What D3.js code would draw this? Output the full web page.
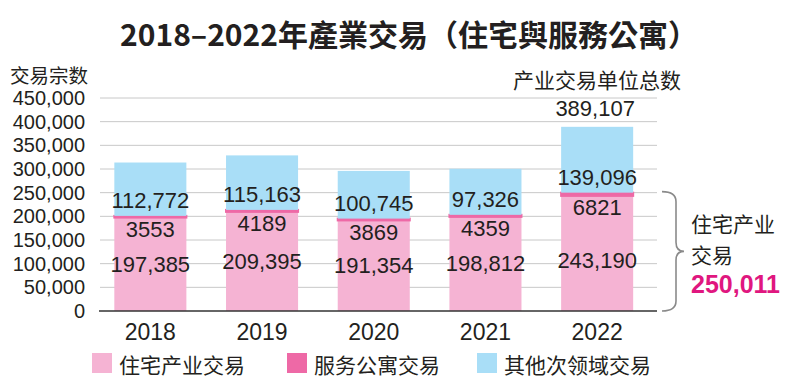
<!DOCTYPE html>
<html>
<head>
<meta charset="utf-8">
<script src="https://cdn.jsdelivr.net/npm/d3@7"></script>
<style>
  html, body { margin: 0; padding: 0; background: #fff; }
  svg { display: block; }
</style>
</head>
<body>
<svg id="chart" width="800" height="389"></svg>
<script>
// ---- data ----
const years = ["2018", "2019", "2020", "2021", "2022"];
const residential = [197385, 209395, 191354, 198812, 243190];
const servicedApt = [3553, 4189, 3869, 4359, 6821];
const otherSectors = [112772, 115163, 100745, 97326, 139096];
const yTicks = [0, 50000, 100000, 150000, 200000, 250000, 300000, 350000, 400000, 450000];
const seriesNames = ["住宅产业交易", "服务公寓交易", "其他次领域交易"];
const titleText = "2018–2022年產業交易（住宅與服務公寓）";
const yAxisTitle = "交易宗数";
const totalTitle = "产业交易单位总数";
const braceLabelLines = ["住宅产业", "交易"];
const braceValue = 250011;

// ---- setup ----
const colors = ["#f5b3d3", "#ee69a6", "#a9def7"];
const svg = d3.select("#chart");
const latin = "'Liberation Sans', Arial, sans-serif";
const cjkSC = "'Noto Sans CJK SC', sans-serif";
const cjkTC = "'Noto Sans CJK TC', sans-serif";
const fmt = d3.format(",");

const x = d3.scaleBand().domain(years).range([94.5, 653]).paddingInner(0.355).paddingOuter(0.1775);
const y = d3.scaleLinear().domain([0, 450000]).range([311, 98]);

const rows = years.map((yr, i) => ({ year: yr, res: residential[i], svc: servicedApt[i], oth: otherSectors[i] }));
const stack = d3.stack().keys(["res", "svc", "oth"])(rows);

// title
svg.append("text").attr("x", 409).attr("y", 33).attr("text-anchor", "middle")
  .attr("dominant-baseline", "central")
  .style("font-family", cjkTC).style("font-weight", 700).style("font-size", "30px")
  .attr("fill", "#231f20").text(titleText);

// gridlines
svg.append("g").selectAll("line").data(yTicks.filter(d => d > 0)).join("line")
  .attr("x1", 100).attr("x2", 657).attr("y1", d => y(d)).attr("y2", d => y(d))
  .attr("stroke", "#c8c8c8").attr("stroke-width", 1);

// y axis labels
svg.append("g").selectAll("text").data(yTicks).join("text")
  .attr("x", 85).attr("y", d => y(d)).attr("text-anchor", "end").attr("dominant-baseline", "central")
  .style("font-family", latin).style("font-size", "20px").attr("fill", "#231f20")
  .text(d => fmt(d));

svg.append("text").attr("x", 10).attr("y", 74).attr("dominant-baseline", "central")
  .style("font-family", cjkSC).style("font-size", "19.5px").attr("fill", "#231f20").text(yAxisTitle);

// bars
svg.append("g").selectAll("g").data(stack).join("g").attr("fill", (d, i) => colors[i])
  .attr("stroke", (d, i) => i === 1 ? colors[1] : "none").attr("stroke-width", 2)
  .selectAll("rect").data(d => d).join("rect")
  .attr("x", d => x(d.data.year)).attr("width", x.bandwidth())
  .attr("y", d => y(d[1])).attr("height", d => y(d[0]) - y(d[1]));

// zero line
svg.append("line").attr("x1", 99).attr("x2", 657).attr("y1", y(0)).attr("y2", y(0))
  .attr("stroke", "#333").attr("stroke-width", 1.5);

// value labels
const lbl = svg.append("g").style("font-family", latin).style("font-size", "22px").attr("fill", "#231f20")
  .attr("text-anchor", "middle").attr("dominant-baseline", "central");
rows.forEach((r, i) => {
  const cx = x(r.year) + x.bandwidth() / 2;
  const pinkTop = y(r.res);
  const mid = (pinkTop + y(0)) / 2;
  lbl.append("text").attr("x", cx).attr("y", Math.max(mid, 260)).text(fmt(r.res));
  lbl.append("text").attr("x", cx).attr("y", pinkTop + 12).text(r.svc);
  lbl.append("text").attr("x", cx).attr("y", y(r.res + r.svc) - 15).text(fmt(r.oth));
});

// total on last bar
const last = rows[rows.length - 1];
const lastTotal = last.res + last.svc + last.oth;
lbl.append("text").attr("x", x(last.year) + x.bandwidth() / 2 - 2).attr("y", y(lastTotal) - 18).text(fmt(lastTotal));
svg.append("text").attr("x", 597).attr("y", 79).attr("text-anchor", "middle").attr("dominant-baseline", "central")
  .style("font-family", cjkSC).style("font-size", "21px").attr("fill", "#231f20").text(totalTitle);

// x labels
svg.append("g").selectAll("text").data(years).join("text")
  .attr("x", d => x(d) + x.bandwidth() / 2).attr("y", 332)
  .attr("text-anchor", "middle").attr("dominant-baseline", "central")
  .style("font-family", latin).style("font-size", "23px").attr("fill", "#231f20").text(d => d);

// brace
const bTop = y(braceValue) - 1, bBot = y(0), bMid = (bTop + bBot) / 2;
const bp = d3.path();
bp.moveTo(662, bTop);
bp.quadraticCurveTo(676, bTop, 676, bTop + 10);
bp.lineTo(676, bMid - 9);
bp.quadraticCurveTo(676, bMid, 684, bMid);
bp.quadraticCurveTo(676, bMid, 676, bMid + 9);
bp.lineTo(676, bBot - 10);
bp.quadraticCurveTo(676, bBot, 662, bBot);
svg.append("path").attr("d", bp.toString()).attr("fill", "none").attr("stroke", "#8a8a8a").attr("stroke-width", 1.6);

braceLabelLines.forEach((t, i) => {
  svg.append("text").attr("x", 691).attr("y", 223 + i * 31).attr("dominant-baseline", "central")
    .style("font-family", cjkSC).style("font-size", "21px").attr("fill", "#231f20").text(t);
});
svg.append("text").attr("x", 691).attr("y", 284).attr("dominant-baseline", "central")
  .style("font-family", latin).style("font-weight", 700).style("font-size", "25px").attr("fill", "#e0177f")
  .text(fmt(braceValue));

// legend
const legX = [92, 287, 477];
const leg = svg.append("g");
seriesNames.forEach((n, i) => {
  leg.append("rect").attr("x", legX[i]).attr("y", 353).attr("width", 20).attr("height", 20).attr("fill", colors[i]);
  leg.append("text").attr("x", legX[i] + 27).attr("y", 363.5).attr("dominant-baseline", "central")
    .style("font-family", cjkSC).style("font-size", "21px").attr("fill", "#231f20").text(n);
});
</script>
</body>
</html>
